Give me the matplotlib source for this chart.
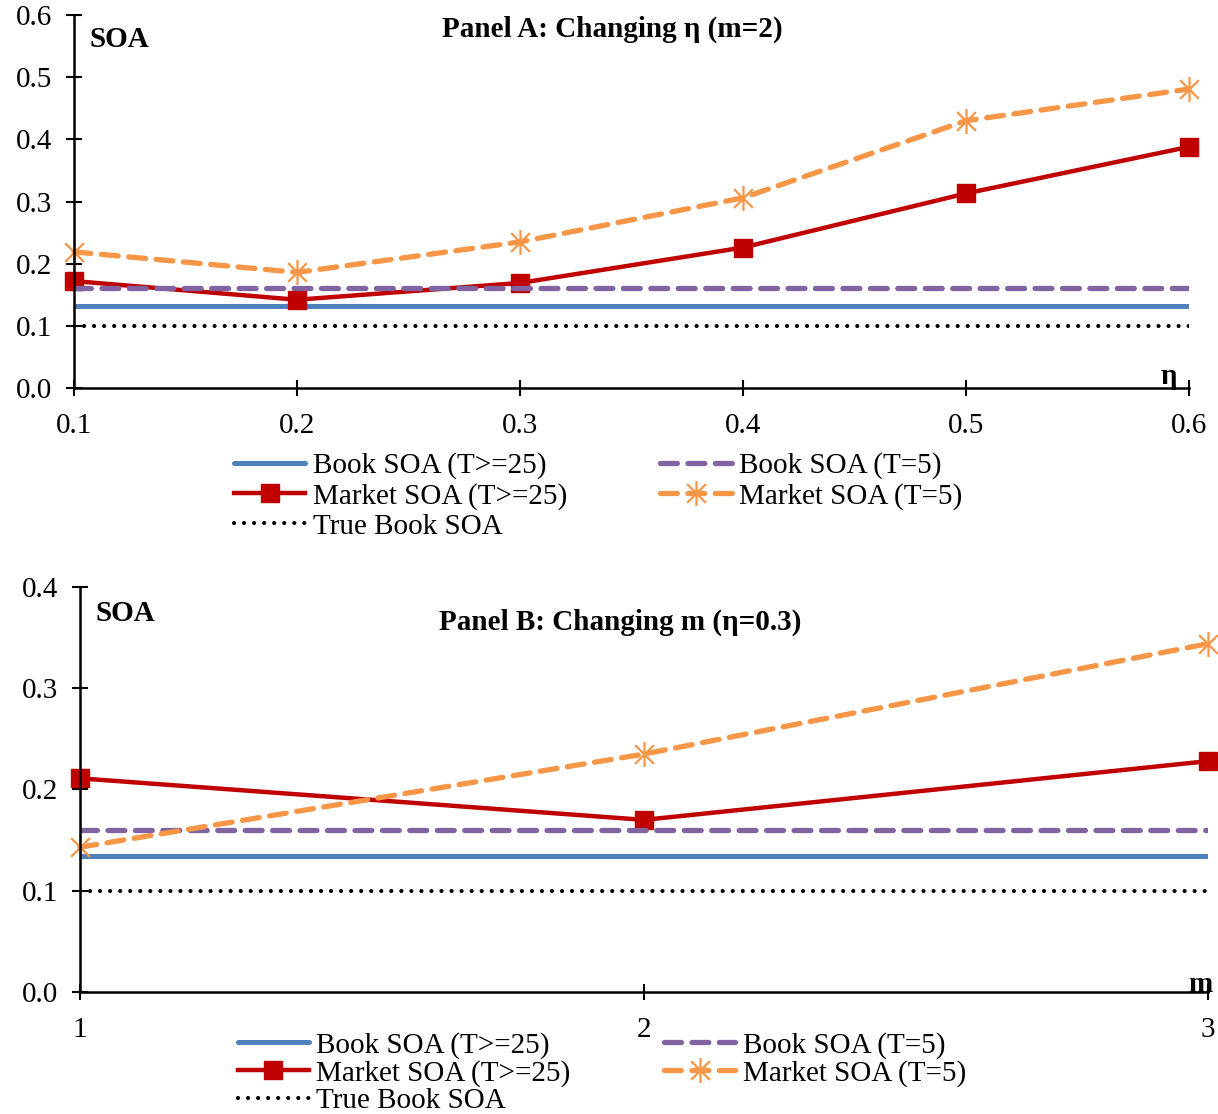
import numpy as np
import matplotlib
matplotlib.use("Agg")
import matplotlib.pyplot as plt
from matplotlib.path import Path

plt.rcParams['font.family'] = ['Liberation Serif', 'DejaVu Serif']

# Panel A: changing eta (m=2)
eta = [0.1, 0.2, 0.3, 0.4, 0.5, 0.6]
a_book_25 = [0.132] * 6
a_book_5 = [0.161] * 6
a_market_25 = [0.172, 0.142, 0.169, 0.226, 0.313, 0.388]
a_market_5 = [0.219, 0.186, 0.235, 0.306, 0.430, 0.481]
a_true = [0.100] * 6

# Panel B: changing m (eta=0.3)
m_vals = [1, 2, 3]
b_book_25 = [0.134] * 3
b_book_5 = [0.160] * 3
b_market_25 = [0.211, 0.170, 0.228]
b_market_5 = [0.143, 0.235, 0.344]
b_true = [0.100] * 3

BLUE = '#4F81BD'
PURPLE = '#8064A2'
RED = '#C00000'
ORANGE = '#F79646'

# excel style asterisk marker: vertical bar plus an x
star = Path([(0, -1), (0, 1), (-0.75, -0.75), (0.75, 0.75), (-0.75, 0.75), (0.75, -0.75)],
            [Path.MOVETO, Path.LINETO] * 3)


def draw_panel(ax, x, book25, book5, mk25, mk5, true, ylim, yticks):
    ax.plot(x, book25, color=BLUE, lw=3.6, solid_capstyle='round', label='Book SOA (T>=25)')
    ax.plot(x, mk25, color=RED, lw=3.2, marker='s', ms=12.5, clip_on=False, label='Market SOA (T>=25)')
    ax.plot(x, true, color='black', lw=3.0, linestyle=(0, (0.01, 2.4)), dash_capstyle='round',
            label='True Book SOA')
    ax.plot(x, book5, color=PURPLE, lw=3.8, linestyle=(0, (3.2, 2.0)), dash_capstyle='round',
            label='Book SOA (T=5)')
    ax.plot(x, mk5, color=ORANGE, lw=3.8, linestyle=(0, (3.2, 2.0)), dash_capstyle='round',
            marker=star, ms=18, mew=1.6, mec=ORANGE, clip_on=False, label='Market SOA (T=5)')
    ax.set_xlim(x[0], x[-1])
    ax.set_ylim(*ylim)
    ax.set_yticks(yticks)
    ax.set_yticklabels([f'{t:.1f}' for t in yticks])
    ax.set_xticks(x)
    for s in ['top', 'right']:
        ax.spines[s].set_visible(False)
    for s in ['left', 'bottom']:
        ax.spines[s].set_linewidth(1.8)
    ax.tick_params(axis='both', direction='inout', length=12, width=1.5, labelsize=21)
    ax.tick_params(axis='y', pad=10)
    ax.tick_params(axis='x', pad=12)


fig = plt.figure(figsize=(12.18, 11.14), dpi=100)

axA = fig.add_axes([0.0608, 0.6517, 0.9154, 0.3348])
draw_panel(axA, eta, a_book_25, a_book_5, a_market_25, a_market_5, a_true,
           (0, 0.6), [0.0, 0.1, 0.2, 0.3, 0.4, 0.5, 0.6])
axA.set_xticklabels([f'{v:.1f}' for v in eta])
axA.text(0.014, 0.935, 'SOA', transform=axA.transAxes, fontsize=21, fontweight='bold', va='center')
axA.text(0.483, 0.962, 'Panel A: Changing η (m=2)', transform=axA.transAxes, fontsize=21,
         fontweight='bold', ha='center', va='center')
axA.text(0.982, -0.005, 'η', transform=axA.transAxes, fontsize=21, fontweight='bold', ha='center', va='bottom')

axB = fig.add_axes([0.0657, 0.1095, 0.9261, 0.3636])
draw_panel(axB, m_vals, b_book_25, b_book_5, b_market_25, b_market_5, b_true,
           (0, 0.4), [0.0, 0.1, 0.2, 0.3, 0.4])
axB.set_xticklabels([str(v) for v in m_vals])
axB.text(0.014, 0.935, 'SOA', transform=axB.transAxes, fontsize=21, fontweight='bold', va='center')
axB.text(0.479, 0.913, 'Panel B: Changing m (η=0.3)', transform=axB.transAxes, fontsize=21,
         fontweight='bold', ha='center', va='center')
axB.text(0.993, -0.015, 'm', transform=axB.transAxes, fontsize=21, fontweight='bold', ha='center', va='bottom')

legend_kw = dict(ncol=2, loc='upper left', frameon=False, fontsize=21, handlelength=2.45,
                 handletextpad=0.25, columnspacing=3.2, labelspacing=0.12, borderpad=0,
                 borderaxespad=0)
h, l = axA.get_legend_handles_labels()
fig.legend(h, l, bbox_to_anchor=(0.192, 0.594), **legend_kw)
legend_kw['labelspacing'] = 0.04
h, l = axB.get_legend_handles_labels()
fig.legend(h, l, bbox_to_anchor=(0.195, 0.074), **legend_kw)

fig.savefig('out.png', dpi=100)
